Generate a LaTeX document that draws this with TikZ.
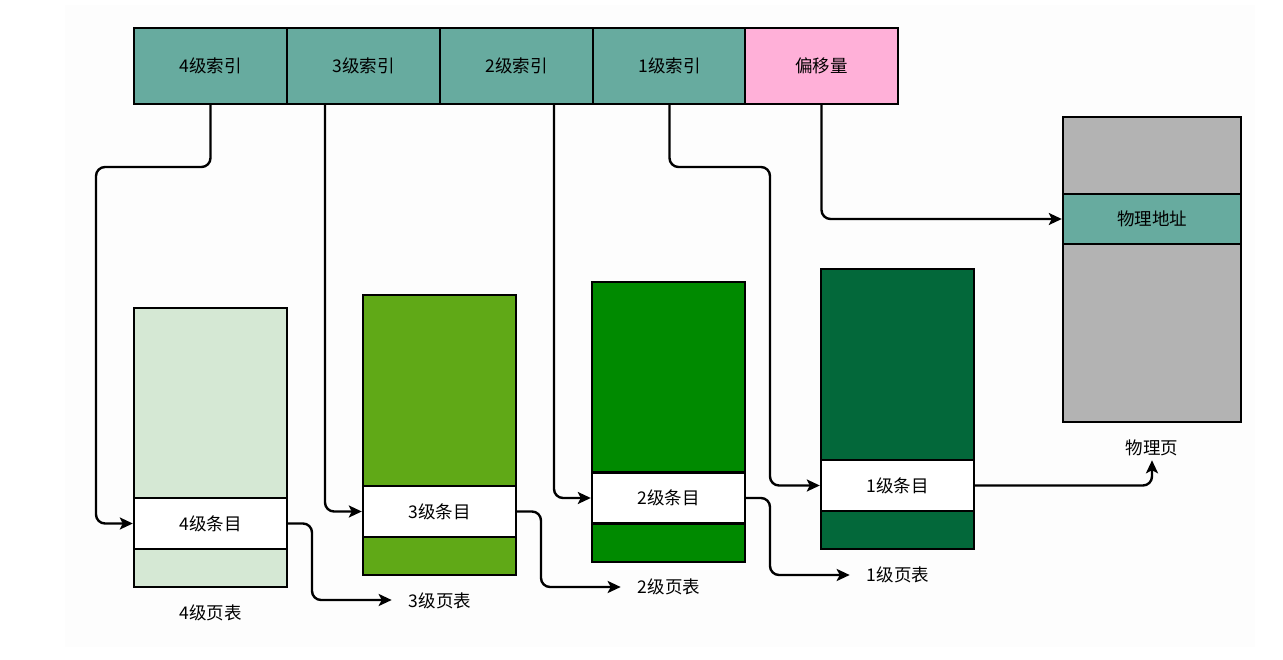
\documentclass[tikz,border=0pt]{standalone}
\usepackage{fontspec}
\newfontfamily\cjk{Noto Sans CJK SC}
\usetikzlibrary{arrows.meta}
\definecolor{teal1}{HTML}{67AB9F}
\definecolor{pink1}{HTML}{FFB0D8}
\definecolor{g4}{HTML}{D5E8D4}
\definecolor{g3}{HTML}{60A917}
\definecolor{g2}{HTML}{008A00}
\definecolor{g1}{HTML}{03683A}
\definecolor{grey1}{HTML}{B3B3B3}
\definecolor{bg}{HTML}{FDFDFD}
\tikzset{
  txt/.style={font=\cjk\fontsize{17.5}{20}\selectfont},
  cell/.style={txt, draw=black, line width=2.4pt, minimum width=153pt, minimum height=76pt, inner sep=0pt},
  tbl/.style={draw=black, line width=2.4pt, minimum width=153pt, minimum height=280pt, inner sep=0pt},
  entry/.style={txt, draw=black, line width=2.4pt, fill=white, minimum width=153pt, minimum height=51pt, inner sep=0pt},
  lbl/.style={txt, inner sep=2pt},
  conn/.style={draw=black, line width=2.4pt, rounded corners=9pt, -{Stealth[length=13pt,width=12pt,inset=3pt]}}
}
\begin{document}
\begin{tikzpicture}[x=1pt,y=-1pt]
\useasboundingbox (0,0) rectangle (1283,660);
\fill[white] (0,0) rectangle (1283,660);
\fill[bg] (65,5) rectangle (1255,647);
% top bar
\node[cell, fill=teal1] (i4) at (210.5,66) {4级索引};
\node[cell, fill=teal1] (i3) at (363.5,66) {3级索引};
\node[cell, fill=teal1] (i2) at (516.5,66) {2级索引};
\node[cell, fill=teal1] (i1) at (669.5,66) {1级索引};
\node[cell, fill=pink1] (off) at (821.5,66) {偏移量};
% page tables
\node[tbl, fill=g4, minimum height=279pt] (t4) at (210.5,447.5) {};
\node[entry] (e4) at (210.5,523.5) {4级条目};
\node[tbl, fill=g3] (t3) at (439.5,435) {};
\node[entry] (e3) at (439.5,511.5) {3级条目};
\node[tbl, fill=g2] (t2) at (668.5,422) {};
\node[entry] (e2) at (668.5,498) {2级条目};
\node[tbl, fill=g1] (t1) at (897.5,409) {};
\node[entry] (e1) at (897.5,485.5) {1级条目};
% physical page
\node[draw=black, line width=2.4pt, fill=grey1, minimum width=178pt, minimum height=305pt, inner sep=0pt] (pp) at (1152,269.5) {};
\node[entry, fill=teal1, minimum width=178pt, minimum height=50pt] (pa) at (1152,219) {物理地址};
% labels
\node[lbl] (l4) at (210.5,613) {4级页表};
\node[lbl] (l3) at (440,601) {3级页表};
\node[lbl] (l2) at (669,587) {2级页表};
\node[lbl] (l1) at (898,575) {1级页表};
\node[lbl] (lp) at (1152,448) {物理页};
% index connectors
\draw[conn] (i4.south) |- (96,167) |- (e4.west);
\draw[conn] ([xshift=-38.5pt]i3.south) |- (e3.west);
\draw[conn] ([xshift=37.5pt]i2.south) |- (e2.west);
\draw[conn] (i1.south) |- (770,167) |- (e1.west);
\draw[conn] (off.south) |- (pa.west);
% entry connectors
\draw[conn] (e4.east) -- (312,523.5) -- (312,600) -- ([xshift=-15pt]l3.west |- 0,600);
\draw[conn] (e3.east) -- (541,511.5) -- (541,587) -- ([xshift=-15pt]l2.west |- 0,587);
\draw[conn] (e2.east) -- (770,498) -- (770,575) -- ([xshift=-15pt]l1.west |- 0,575);
\draw[conn] (e1.east) -| ([yshift=-2pt]lp.south);
\end{tikzpicture}
\end{document}
